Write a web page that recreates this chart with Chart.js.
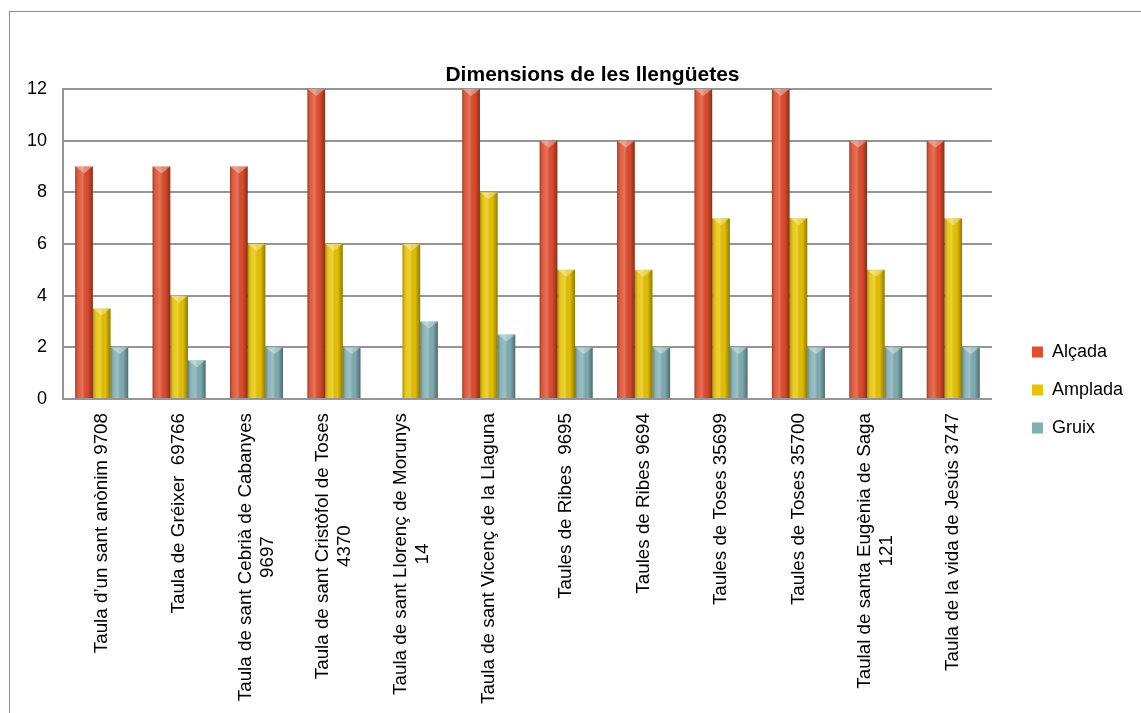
<!DOCTYPE html>
<html>
<head>
<meta charset="utf-8">
<title>Dimensions de les llengüetes</title>
<script src="https://cdn.jsdelivr.net/npm/chart.js@4"></script>
<style>
    html, body { margin: 0; padding: 0; overflow: hidden; background: #fff; }
    body { width: 1141px; height: 713px; position: relative; }
    #frame { position: absolute; left: 9px; top: 11px; width: 1200px; height: 760px; border: 1px solid #8a8a8a; }
    #wrap { position: absolute; left: 0; top: 0; width: 1185px; height: 780px; }
</style>
</head>
<body>
<div id="frame"></div>
<div id="wrap"><canvas id="dimensions-chart"></canvas></div>
<script>
// Peces i mides (cm)
const categories = [
    ['Taula d\u2019un sant anònim 9708'],
    ['Taula de Gréixer  69766'],
    ['Taula de sant Cebrià de Cabanyes', '9697'],
    ['Taula de sant Cristòfol de Toses', '4370'],
    ['Taula de sant Llorenç de Morunys', '14'],
    ['Taula de sant Vicenç de la Llaguna'],
    ['Taules de Ribes  9695'],
    ['Taules de Ribes 9694'],
    ['Taules de Toses 35699'],
    ['Taules de Toses 35700'],
    ['Taulal de santa Eugènia de Saga', '121'],
    ['Taula de la vida de Jesús 3747']
];
const alcada = [9, 9, 9, 12, null, 12, 10, 10, 12, 12, 10, 10];
const amplada = [3.5, 4, 6, 6, 6, 8, 5, 5, 7, 7, 5, 7];
const gruix = [2, 1.5, 2, 2, 3, 2.5, 2, 2, 2, 2, 2, 2];
const chartTitle = 'Dimensions de les llengüetes';

const fontFamily = '"Liberation Sans", Arial, sans-serif';
const gridColor = '#959595';

Chart.defaults.font.family = fontFamily;
Chart.defaults.font.size = 18;
Chart.defaults.color = '#000';

// title centred on the whole frame, not only on the plot
const frameTitle = {
    id: 'frameTitle',
    afterDraw(chart) {
        const ctx = chart.ctx;
        ctx.save();
        ctx.font = 'bold 21px ' + fontFamily;
        ctx.fillStyle = '#000';
        ctx.textAlign = 'center';
        ctx.textBaseline = 'middle';
        ctx.fillText(chartTitle, chart.width / 2, 75);
        ctx.restore();
    }
};

// shading on top of each bar so they look like rounded columns with a pointed cap
const columnShade = {
    id: 'columnShade',
    afterDatasetsDraw(chart) {
        const ctx = chart.ctx;
        chart.data.datasets.forEach((ds, di) => {
            const meta = chart.getDatasetMeta(di);
            meta.data.forEach((bar, i) => {
                if (ds.data[i] == null) return;
                const left = bar.x - bar.width / 2;
                const right = bar.x + bar.width / 2;
                const top = Math.min(bar.y, bar.base);
                const bottom = Math.max(bar.y, bar.base);
                const g = ctx.createLinearGradient(left, 0, right, 0);
                g.addColorStop(0, 'rgba(0,0,0,0.30)');
                g.addColorStop(0.22, 'rgba(255,255,255,0.10)');
                g.addColorStop(0.42, 'rgba(255,255,255,0.22)');
                g.addColorStop(0.7, 'rgba(0,0,0,0.02)');
                g.addColorStop(1, 'rgba(0,0,0,0.38)');
                ctx.save();
                ctx.fillStyle = g;
                ctx.fillRect(left, top, right - left, bottom - top);
                // cap
                ctx.beginPath();
                ctx.moveTo(left, top);
                ctx.lineTo(right, top);
                ctx.lineTo(bar.x, top + 7);
                ctx.closePath();
                ctx.fillStyle = 'rgba(255,255,255,0.35)';
                ctx.fill();
                ctx.restore();
            });
        });
    }
};

// vertical category names, each block centred on its tick
const verticalLabels = {
    id: 'verticalLabels',
    afterDraw(chart) {
        const ctx = chart.ctx;
        const xScale = chart.scales.x;
        const lineHeight = 22;
        ctx.save();
        ctx.font = '18.8px ' + fontFamily;
        ctx.fillStyle = '#000';
        ctx.textAlign = 'center';
        ctx.textBaseline = 'middle';
        categories.forEach((lines, i) => {
            const x = xScale.getPixelForValue(i);
            const maxW = Math.max(...lines.map(l => ctx.measureText(l).width));
            ctx.save();
            ctx.translate(x, xScale.top + 14);
            ctx.rotate(-Math.PI / 2);
            lines.forEach((line, k) => {
                ctx.fillText(line, -maxW / 2, (k - (lines.length - 1) / 2) * lineHeight);
            });
            ctx.restore();
        });
        ctx.restore();
    }
};

const ctx = document.getElementById('dimensions-chart').getContext('2d');
new Chart(ctx, {
    type: 'bar',
    data: {
        labels: categories,
        datasets: [
            { label: 'Alçada', data: alcada, backgroundColor: '#E04C2C', borderWidth: 0 },
            { label: 'Amplada', data: amplada, backgroundColor: '#E8C400', borderWidth: 0 },
            { label: 'Gruix', data: gruix, backgroundColor: '#80AFB4', borderWidth: 0 }
        ]
    },
    options: {
        responsive: true,
        maintainAspectRatio: false,
        animation: false,
        layout: { padding: { left: 23, right: 52, top: 89, bottom: 89 } },
        datasets: { bar: { categoryPercentage: 0.685, barPercentage: 1 } },
        plugins: {
            title: { display: false },
            legend: {
                position: 'right',
                labels: { boxWidth: 11, boxHeight: 11, padding: 20, font: { size: 18 } }
            },
            tooltip: { enabled: false }
        },
        scales: {
            x: {
                grid: { display: false },
                border: { display: true, color: gridColor, width: 2 },
                ticks: { display: false },
                afterFit: s => { s.height = 292; }
            },
            y: {
                min: 0,
                max: 12,
                grid: { color: gridColor, lineWidth: 2, drawTicks: false },
                border: { display: true, color: gridColor, width: 2 },
                ticks: { stepSize: 2, padding: 16, font: { size: 18 } },
                afterFit: s => { s.width = 40; }
            },
            gap: {
                type: 'linear',
                axis: 'y',
                position: 'right',
                display: true,
                grid: { display: false, drawOnChartArea: false },
                border: { display: false },
                ticks: { display: false },
                afterFit: s => { s.width = 20; }
            }
        }
    },
    plugins: [columnShade, verticalLabels, frameTitle]
});
</script>
</body>
</html>
